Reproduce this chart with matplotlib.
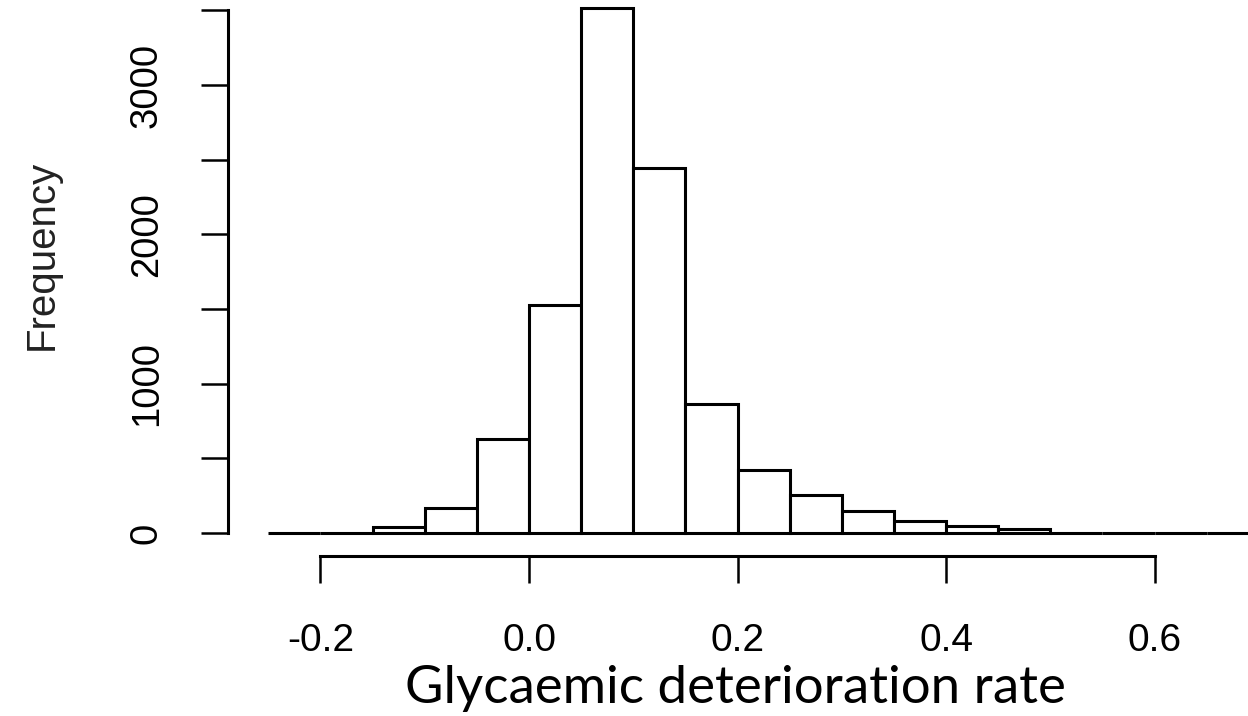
import numpy as np
import matplotlib
matplotlib.use("Agg")
import matplotlib.pyplot as plt

# Data
bin_left = [-0.25, -0.20, -0.15, -0.10, -0.05, 0.00, 0.05, 0.10, 0.15, 0.20,
            0.25, 0.30, 0.35, 0.40, 0.45, 0.50, 0.55, 0.60, 0.65, 0.70]
counts = [1, 3, 42, 170, 632, 1525, 3518, 2447, 864, 425,
          252, 150, 82, 44, 24, 2, 1, 1, 0, 1]
bin_width = 0.05
x_ticks = [-0.2, 0.0, 0.2, 0.4, 0.6]
x_ticklabels = ["-0.2", "0.0", "0.2", "0.4", "0.6"]
y_ticks = [0, 500, 1000, 1500, 2000, 2500, 3000, 3500]
y_ticklabels = ["0", "", "1000", "", "2000", "", "3000", ""]

W, H = 1248, 716
DPI = 100
fig = plt.figure(figsize=(W / DPI, H / DPI), dpi=DPI)

# pixel mapping of reference
px_per_x = 1042.5   # pixels per unit x
x0_px = 529         # x=0
px_per_y = 0.1493   # pixels per count
y0_px = 533         # count 0

left_px, right_px = 228, 1248
top_px, bottom_px = 0, 556
ax = fig.add_axes([left_px / W, 1 - bottom_px / H,
                   (right_px - left_px) / W, (bottom_px - top_px) / H])
ax.set_xlim((left_px - x0_px) / px_per_x, (right_px - x0_px) / px_per_x)
ax.set_ylim((y0_px - bottom_px) / px_per_y, (y0_px - top_px) / px_per_y)

lw = 2.2
ax.bar(bin_left, counts, width=bin_width, align="edge", facecolor="white",
       edgecolor="black", linewidth=lw, clip_on=False)

for s in ["top", "right"]:
    ax.spines[s].set_visible(False)
ax.spines["left"].set_bounds(0, 3500)
ax.spines["bottom"].set_bounds(-0.2, 0.6)
ax.spines["left"].set_linewidth(lw)
ax.spines["bottom"].set_linewidth(lw)

font = "Liberation Sans"
ax.set_xticks(x_ticks)
ax.set_xticklabels(x_ticklabels, family=font, fontsize=28)
ax.set_yticks(y_ticks)
ax.set_yticklabels(y_ticklabels, family=font, fontsize=27.5, rotation=90,
                   va="center")
ax.tick_params(axis="both", direction="out", length=19.4, width=1.8)
ax.tick_params(axis="x", pad=29)
ax.tick_params(axis="y", pad=26)

fig.text(42 / W, 1 - 255 / H, "Frequency", family=font, fontsize=29,
         rotation=90, ha="center", va="center", color="#222222")
fig.text(735 / W, 1 - 689 / H, "Glycaemic deterioration rate",
         family="Lato", fontsize=38, ha="center", va="center")

fig.savefig("out.png", dpi=DPI, facecolor="white")
